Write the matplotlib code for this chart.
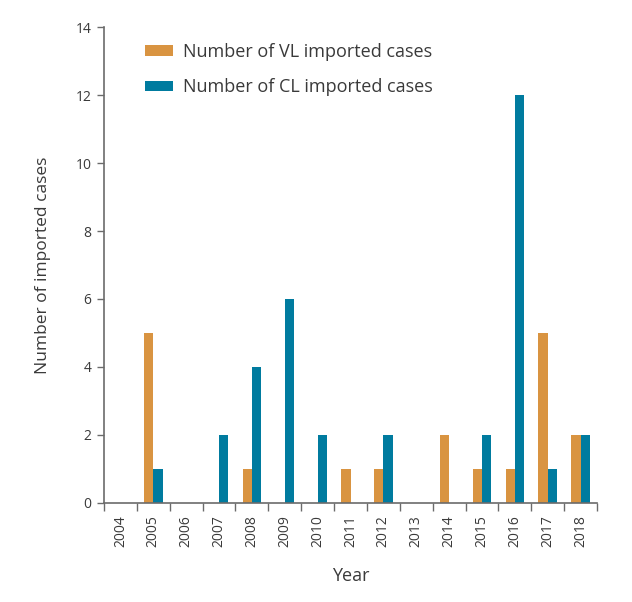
import matplotlib
matplotlib.use("Agg")
import matplotlib.pyplot as plt
import numpy as np

years = ["2004", "2005", "2006", "2007", "2008", "2009", "2010", "2011",
         "2012", "2013", "2014", "2015", "2016", "2017", "2018"]
vl_cases = [0, 5, 0, 0, 1, 0, 0, 1, 1, 0, 2, 1, 1, 5, 2]
cl_cases = [0, 1, 0, 2, 4, 6, 2, 0, 2, 0, 0, 2, 12, 1, 2]

vl_color = "#D99441"
cl_color = "#007B9F"
text_color = "#3a3a3a"
axis_color = "#6b6b6b"

plt.rcParams['font.family'] = ['Open Sans', 'DejaVu Sans']

fig = plt.figure(figsize=(6.32, 6.02), dpi=100)
ax = fig.add_axes([0.1646, 0.1645, 0.78, 0.7906])

x = np.arange(len(years))
w = 0.28
ax.bar(x - w / 2, vl_cases, width=w, color=vl_color, label="Number of VL imported cases")
ax.bar(x + w / 2, cl_cases, width=w, color=cl_color, label="Number of CL imported cases")

ax.set_xlim(-0.5, len(years) - 0.5)
ax.set_ylim(0, 14)
ax.set_yticks(range(0, 15, 2))
ax.tick_params(axis='y', direction='out', length=5, width=1, color=axis_color,
               labelcolor=text_color, labelsize=10, pad=4)

ax.set_xticks(x)
ax.set_xticklabels(years, rotation=90)
ax.set_xticks(np.arange(-0.5, len(years), 1.0), minor=True)
ax.tick_params(axis='x', which='major', length=0, labelcolor=text_color, labelsize=10, pad=9)
ax.tick_params(axis='x', which='minor', direction='out', length=6, width=1, color=axis_color)

for s in ['top', 'right']:
    ax.spines[s].set_visible(False)
for s in ['left', 'bottom']:
    ax.spines[s].set_color(axis_color)
    ax.spines[s].set_linewidth(1.2)

ax.set_ylabel("Number of imported cases", fontsize=12.5, color=text_color, labelpad=18)
ax.set_xlabel("Year", fontsize=13, color=text_color, labelpad=14)

leg = ax.legend(loc='upper left', bbox_to_anchor=(0.05, 1.0), frameon=False,
                fontsize=13, handlelength=1.55, handleheight=0.55,
                labelspacing=0.95, handletextpad=0.55)
for t in leg.get_texts():
    t.set_color(text_color)

fig.savefig("out.png", dpi=100)
